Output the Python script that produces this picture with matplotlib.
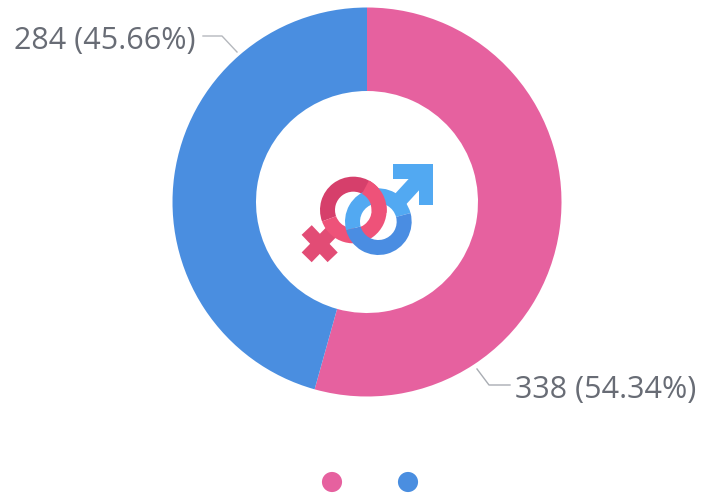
import math
import matplotlib
matplotlib.use("Agg")
import matplotlib.pyplot as plt
from matplotlib.patches import Wedge, Polygon

counts = [338, 284]
percent_labels = ["338 (54.34%)", "284 (45.66%)"]
slice_colors = ["#E6619F", "#4A8EE0"]

W, H = 702, 496
fig = plt.figure(figsize=(W / 100, H / 100), dpi=100, facecolor="white")
ax = fig.add_axes([0, 0, 1, 1])


def py(y):
    return H - y


cx, cy, R, r = 367, 202, 194.5, 111
ax.pie(counts, colors=slice_colors, startangle=90, counterclock=False,
       center=(cx, py(cy)), radius=R, frame=False,
       wedgeprops=dict(width=R - r, linewidth=0))
ax.set_xlim(0, W)
ax.set_ylim(0, H)
ax.set_aspect("auto")
ax.axis("off")

# labels and leader lines
text_color = "#686C75"
font = dict(family="Open Sans", fontsize=22, color=text_color, va="center")
ax.text(515, py(390), percent_labels[0], ha="left", **font)
ax.text(195, py(41), percent_labels[1], ha="right", **font)
ax.plot([477, 489, 510], [py(369), py(385), py(385)], color="#A9ADB3", lw=1)
ax.plot([203, 222, 237], [py(36), py(36), py(52)], color="#B5B8BD", lw=1)

# legend dots
ax.scatter([332, 408], [py(482), py(482)], s=210, c=slice_colors, linewidths=0)


# gender icon, coordinates measured on the 3x crop at (280, 140)
def Z(x, y):
    return 280 + x / 3, py(140 + y / 3)


def poly(points, color, z):
    ax.add_patch(Polygon([Z(*p) for p in points], closed=True, fc=color, lw=0, zorder=z))


def bar(p0, p1, half, color, z):
    dx, dy = p1[0] - p0[0], p1[1] - p0[1]
    n = math.hypot(dx, dy)
    nx, ny = -dy / n * half, dx / n * half
    poly([(p0[0] + nx, p0[1] + ny), (p1[0] + nx, p1[1] + ny),
          (p1[0] - nx, p1[1] - ny), (p0[0] - nx, p0[1] - ny)], color, z)


def ring(c, t1, t2, color, z, ro=100, ri=55):
    ax.add_patch(Wedge(Z(*c), ro / 3, t1, t2, width=(ro - ri) / 3, fc=color, lw=0, zorder=z))


f_dark, f_light = "#D63F6B", "#EE5279"
m_light, m_dark = "#52A9F2", "#4A8DE2"
fc_, mc_ = (220, 210), (295, 245)

# female
bar((165, 265), (80, 352), 21, "#E24C75", 5)
bar((80, 270), (158, 352), 21, "#E24C75", 5)
ring(fc_, 55, 200, f_dark, 5)
ring(fc_, 200, 55, f_light, 5)

# male
bar((350, 190), (440, 92), 23, m_light, 6)
poly([(338, 72), (458, 72), (458, 196), (418, 196), (418, 118), (338, 118)], m_light, 6)
ring(mc_, 15, 195, m_light, 6)
ring(mc_, 195, 15, m_dark, 6)

# interlock: female passes over male at the top crossing
ring(fc_, -5, 62, f_light, 7)

fig.savefig("out.png", dpi=100, facecolor="white")
